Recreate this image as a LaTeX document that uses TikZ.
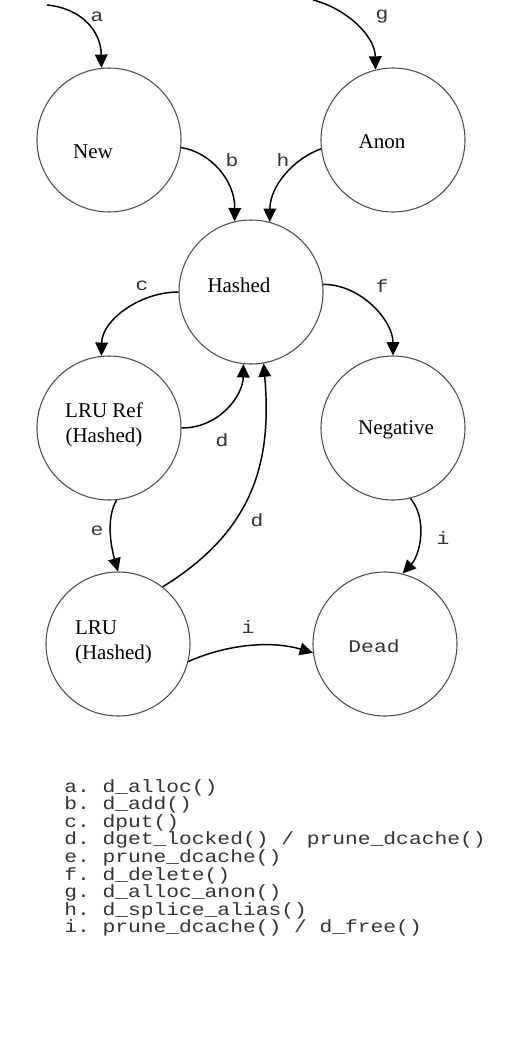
\documentclass[tikz,border=0pt]{standalone}
\usepackage{fontspec}
\setmainfont{Liberation Serif}
\newfontfamily\callfamily[FakeStretch=1.2]{Liberation Mono}
\usetikzlibrary{arrows.meta}
\newcommand\callfont{\callfamily\fontsize{13.3}{13.2}\selectfont\frenchspacing\lineskiplimit=-20pt\relax}

\begin{document}
\begin{tikzpicture}[x=0.75pt,y=-0.75pt,
	state/.style={circle,draw=black!70,line width=.8pt,minimum size=108pt,inner sep=0pt},
	statename/.style={font=\fontsize{15.75}{18.75}\selectfont,inner sep=0pt},
	trans/.style={-{Triangle[length=10pt,width=9.5pt]},line width=1.1pt},
	call/.style={font=\callfont,text=black!80,inner sep=0pt}]
			\useasboundingbox (0,0) rectangle (530,1046);
			
			% draw states
			\node[state] (new) at (109,140) {};
			\node[state] (anon) at (393,140) {};
			\node[state] (hashed) at (251,292) {};
			\node[state] (lruref) at (109,428) {};
			\node[state] (negative) at (393,428) {};
			\node[state] (lru) at (118,644) {};
			\node[state] (dead) at (385,644) {};
			
			% state names
			\node[statename,anchor=base] (newtxt) at (93,158) {New};
			\node[statename,anchor=base] (anontxt) at (382,148) {Anon};
			\node[statename,anchor=base] (hashedtxt) at (239,292) {Hashed};
			\node[statename,align=center] (lrureftxt) at (104,425) {LRU Ref\\(Hashed)};
			\node[statename,anchor=base] (negativetxt) at (396,434) {Negative};
			\node[statename,align=left] (lrutxt) at (113.5,642) {LRU\\(Hashed)};
			\node[call,anchor=base] (deadtxt) at (374,652) {Dead};
			
			% entry points
			\coordinate (astart) at (47,5);
			\coordinate (gstart) at (313,0);
			
			% draw transitions
			\draw[trans] (astart) .. controls (80,8) and (101,30) .. (new.96);
			\draw[trans] (gstart) .. controls (345,8) and (375,35) .. (anon.104);
			\draw[trans] (new.-6) .. controls (210,152) and (235,180) .. (hashed.103);
			\draw[trans] (anon.187) .. controls (295,158) and (270,185) .. (hashed.75);
			\draw[trans] (hashed.180) .. controls (140,292) and (102,320) .. (lruref.96);
			\draw[trans] (hashed.6) .. controls (360,284) and (393,320) .. (negative.90);
			\draw[trans] (lruref.0) .. controls (220,428) and (243,395) .. (hashed.-96);
			\draw[trans] (lru.52) .. controls (255,530) and (272,460) .. (hashed.-80);
			\draw[trans] (lruref.-84) .. controls (105,520) and (112,550) .. (lru.90);
			\draw[trans] (negative.-76) .. controls (428,520) and (420,555) .. (dead.76);
			\draw[trans] (lru.-14) .. controls (225,645) and (270,640) .. (dead.187);
			
			% transition labels
			\node[call] (la) at (97,17) {a};
			\node[call] (lg) at (382,17) {g};
			\node[call] (lb) at (232,160) {b};
			\node[call] (lh) at (283,160) {h};
			\node[call] (lc) at (142,286) {c};
			\node[call] (lf) at (382,286) {f};
			\node[call] (ld) at (222,440) {d};
			\node[call] (ldd) at (257,520) {d};
			\node[call] (le) at (97,531) {e};
			\node[call] (li) at (443,538) {i};
			\node[call] (lii) at (248,627) {i};
			
			% legend
			\node[call,align=left,anchor=north west] (legend) at (64,779) {a. d\_alloc()\\b. d\_add()\\c. dput()\\d. dget\_locked() / prune\_dcache()\\e. prune\_dcache()\\f. d\_delete()\\g. d\_alloc\_anon()\\h. d\_splice\_alias()\\i. prune\_dcache() / d\_free()};
		
		\end{tikzpicture}
\end{document}
